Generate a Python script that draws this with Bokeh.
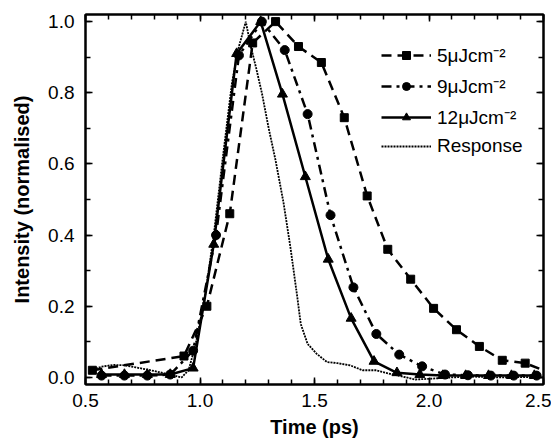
from bokeh.plotting import figure
from bokeh.models import (LinearAxis, SingleIntervalTicker, PrintfTickFormatter,
                          Legend, LegendItem, CustomLabelingPolicy)
from bokeh.embed import file_html
from bokeh.resources import INLINE

# ---- data ----
x5 = [0.53, 0.93, 1.03, 1.13, 1.23, 1.33, 1.43, 1.53, 1.63, 1.73, 1.82, 1.92,
      2.02, 2.12, 2.22, 2.32, 2.42, 2.52]
y5 = [0.02, 0.06, 0.20, 0.46, 0.94, 1.0, 0.93, 0.885, 0.73, 0.51, 0.36, 0.276,
      0.194, 0.134, 0.087, 0.048, 0.04, 0.015]

x9 = [0.57, 0.67, 0.77, 0.87, 0.97, 1.07, 1.17, 1.27, 1.37, 1.47, 1.57, 1.67,
      1.77, 1.87, 1.97, 2.07, 2.17, 2.27, 2.37, 2.47]
y9 = [0.005, 0.005, 0.005, 0.008, 0.075, 0.40, 0.905, 1.0, 0.92, 0.74, 0.456,
      0.253, 0.122, 0.064, 0.031, 0.008, 0.006, 0.005, 0.005, 0.005]

x12 = [0.57, 0.67, 0.77, 0.87, 0.97, 1.06, 1.16, 1.265, 1.36, 1.46, 1.56, 1.66,
       1.76, 1.86, 1.96, 2.06, 2.16, 2.26, 2.36, 2.46]
y12 = [0.008, 0.008, 0.008, 0.008, 0.026, 0.374, 0.91, 1.0, 0.796, 0.564, 0.332,
       0.166, 0.045, 0.013, 0.008, 0.005, 0.005, 0.005, 0.005, 0.005]

xr = [0.52, 0.57, 0.62, 0.67, 0.72, 0.77, 0.82, 0.87, 0.92, 0.95, 0.98, 1.02,
      1.06, 1.10, 1.14, 1.17, 1.20, 1.22, 1.245, 1.27, 1.30, 1.33, 1.365, 1.395,
      1.425, 1.44, 1.47, 1.51, 1.555, 1.60, 1.655, 1.71, 1.77, 1.83, 1.90, 1.94,
      2.0, 2.1, 2.2, 2.3, 2.4, 2.5]
yr = [0.02, 0.03, 0.035, 0.034, 0.028, 0.022, 0.015, 0.008, 0.0, 0.02, 0.09, 0.22,
      0.40, 0.62, 0.83, 0.93, 1.0, 0.935, 0.87, 0.80, 0.70, 0.61, 0.49, 0.365,
      0.225, 0.15, 0.094, 0.066, 0.043, 0.04, 0.034, 0.02, 0.02, 0.01, 0.0, -0.006,
      -0.004, 0.0, 0.002, 0.0, 0.001, 0.0]

labels = ["5μJcm⁻²", "9μJcm⁻²", "12μJcm⁻²", "Response"]

FONT = "Liberation Sans"

p = figure(width=551, height=441, x_range=(0.5, 2.5), y_range=(-0.02, 1.02),
           output_backend="svg", toolbar_location=None,
           min_border_left=85, min_border_right=8, min_border_top=14,
           min_border_bottom=57,
           x_axis_label="Time (ps)", y_axis_label="Intensity (normalised)")

p.xgrid.visible = False
p.ygrid.visible = False
p.outline_line_color = "black"
p.outline_line_width = 2
p.background_fill_color = "white"
p.border_fill_color = "white"

xt = SingleIntervalTicker(interval=0.5, num_minor_ticks=5)
yt = SingleIntervalTicker(interval=0.2, num_minor_ticks=2)


def style(ax, ticker, show_labels):
    ax.ticker = ticker
    ax.formatter = PrintfTickFormatter(format="%.1f")
    ax.axis_line_width = 2
    ax.axis_line_color = "black"
    ax.major_tick_in = 7
    ax.major_tick_out = 0
    ax.minor_tick_in = 5
    ax.minor_tick_out = 0
    ax.major_tick_line_width = 1.5
    ax.minor_tick_line_width = 1.5
    ax.major_label_text_font = FONT
    ax.major_label_text_color = "black"
    ax.axis_label_text_font = FONT
    ax.axis_label_text_font_size = "20px"
    ax.axis_label_text_font_style = "bold"
    ax.axis_label_text_color = "black"
    if show_labels:
        ax.major_label_text_font_size = "19px"
        ax.major_label_standoff = 8
    else:
        ax.major_label_text_font_size = "1px"
        ax.major_label_standoff = 0
        ax.axis_label_standoff = 0
        ax.major_label_policy = CustomLabelingPolicy(
            code="for (const i of indices) { indices.unset(i) }; return indices")


style(p.xaxis[0], xt, True)
style(p.yaxis[0], yt, True)
p.xaxis[0].major_label_standoff = 9
p.xaxis[0].axis_label_standoff = 6
p.yaxis[0].major_label_standoff = 11
p.yaxis[0].axis_label_standoff = 12

top = LinearAxis()
style(top, SingleIntervalTicker(interval=0.5, num_minor_ticks=5), False)
right = LinearAxis()
style(right, SingleIntervalTicker(interval=0.2, num_minor_ticks=2), False)
p.add_layout(top, "above")
p.add_layout(right, "right")

l5 = p.line(x5, y5, line_color="black", line_width=2.5, line_dash="10 6")
m5 = p.scatter(x5, y5, marker="square", size=8, color="black")
l9 = p.line(x9, y9, line_color="black", line_width=2.5, line_dash="10 5 3 5")
m9 = p.scatter(x9, y9, marker="circle", size=9, color="black")
l12 = p.line(x12, y12, line_color="black", line_width=2.5)
m12 = p.scatter(x12, y12, marker="triangle", size=10, color="black")
lr = p.line(xr, yr, line_color="black", line_width=1.8, line_dash="2 1")

legend = Legend(items=[
    LegendItem(label=labels[0], renderers=[l5, m5]),
    LegendItem(label=labels[1], renderers=[l9, m9]),
    LegendItem(label=labels[2], renderers=[l12, m12]),
    LegendItem(label=labels[3], renderers=[lr]),
], location=(296, 227))
legend.border_line_color = None
legend.background_fill_alpha = 0
legend.glyph_width = 50
legend.glyph_height = 20
legend.label_height = 20
legend.spacing = 5
legend.padding = 5
legend.margin = 0
legend.label_standoff = 6
legend.label_text_font = FONT
legend.label_text_font_size = "19px"
legend.label_text_color = "black"
p.add_layout(legend)

open("out.html", "w").write(file_html(p, INLINE))
